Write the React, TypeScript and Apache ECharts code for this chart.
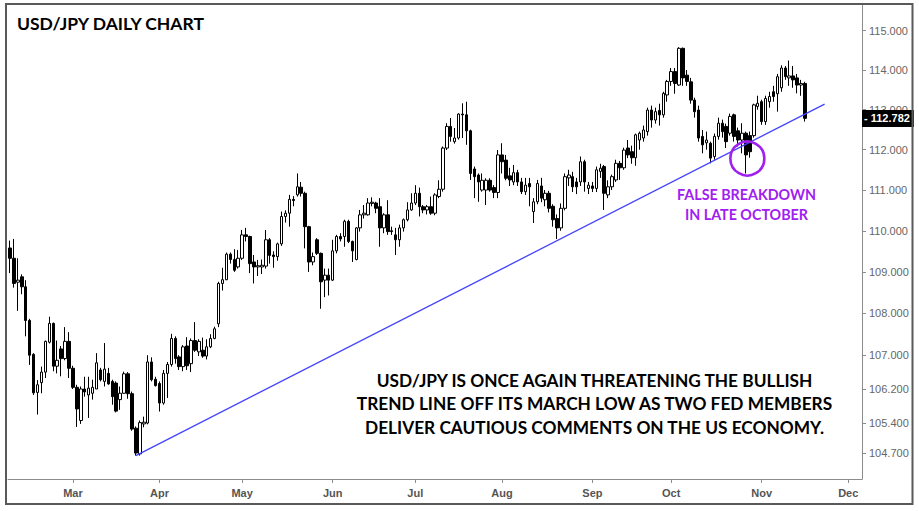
import React, { useEffect, useRef } from "react";
import * as echarts from "echarts";

// ---- Categories (trading days) ----
const START_DATE = "2018-02-07";
const END_DATE = "2018-12-06";
const MONTH_NAMES = ["Jan", "Feb", "Mar", "Apr", "May", "Jun", "Jul", "Aug", "Sep", "Oct", "Nov", "Dec"];

// ---- OHLC values: [open, close, low, high] per trading day ----
const FEB = [
  [109.58, 109.33, 108.97, 109.76], [109.33, 108.72, 108.62, 109.8], [108.75, 108.8, 108.06, 109.33],
  [108.88, 108.64, 108.46, 108.94], [108.64, 107.83, 107.45, 108.8], [107.83, 107.0, 106.77, 107.87],
  [107.02, 106.11, 106.06, 107.05], [106.12, 106.3, 105.6, 106.41], [106.35, 106.6, 106.1, 106.73],
  [106.6, 107.33, 106.46, 107.35], [107.31, 107.76, 107.28, 107.92], [107.76, 106.74, 106.62, 107.78],
  [106.74, 106.88, 106.57, 107.35], [107.15, 106.92, 106.5, 107.22], [106.92, 107.33, 106.88, 107.67],
  [107.33, 106.69, 106.46, 107.55],
];
const MAR = [
  [106.69, 106.24, 106.2, 106.75], [106.24, 105.73, 105.31, 106.3], [105.46, 106.2, 105.38, 106.26],
  [106.2, 106.13, 106.02, 106.49], [106.06, 106.22, 105.52, 106.49], [106.1, 106.24, 105.95, 106.42],
  [106.2, 106.82, 106.2, 107.05], [106.65, 106.42, 106.38, 106.7], [106.38, 106.67, 106.26, 107.29],
  [106.57, 106.32, 106.3, 106.7], [106.38, 106.02, 105.83, 106.42], [106.34, 105.68, 105.65, 106.38],
  [105.95, 106.1, 105.71, 106.26], [106.1, 106.56, 106.09, 106.61], [106.56, 106.09, 105.97, 106.6],
  [106.09, 105.26, 105.22, 106.14], [105.28, 104.7, 104.64, 105.32], [104.68, 105.41, 104.64, 105.46],
  [105.38, 105.42, 105.3, 105.55], [105.4, 106.84, 105.37, 107.0], [106.84, 106.42, 106.38, 106.95],
  [106.43, 106.28, 106.26, 106.49],
];
const APR = [
  [106.33, 105.87, 105.67, 106.38], [105.87, 106.57, 105.83, 106.65], [106.57, 106.78, 105.99, 106.84],
  [106.78, 107.4, 106.73, 107.51], [107.4, 106.92, 106.8, 107.45], [106.96, 106.73, 106.65, 107.0],
  [106.73, 107.2, 106.62, 107.24], [107.22, 106.75, 106.65, 107.43], [106.8, 107.35, 106.6, 107.4],
  [107.35, 107.12, 107.08, 107.79], [107.08, 107.33, 106.98, 107.38], [107.12, 106.98, 106.94, 107.42],
  [106.98, 107.2, 106.9, 107.38], [107.2, 107.4, 107.17, 107.5], [107.4, 107.63, 107.38, 107.68],
  [107.75, 108.72, 107.67, 108.76], [108.72, 108.81, 108.55, 109.1], [108.81, 109.43, 108.8, 109.47],
  [109.43, 109.3, 109.2, 109.47], [109.3, 109.04, 109.0, 109.55], [109.12, 109.33, 109.08, 109.53],
];
const MAY = [
  [109.33, 109.9, 109.29, 110.02], [109.9, 109.86, 109.74, 110.07], [109.86, 109.2, 108.97, 109.88],
  [109.24, 109.12, 108.72, 109.41], [109.12, 109.15, 108.9, 109.29], [109.12, 109.16, 108.95, 109.3],
  [109.14, 109.78, 109.08, 110.02], [109.78, 109.4, 109.2, 109.82], [109.41, 109.37, 109.1, 109.5],
  [109.37, 109.68, 109.27, 109.71], [109.68, 110.35, 109.63, 110.47], [110.35, 110.43, 110.2, 110.5],
  [110.43, 110.77, 110.1, 110.88], [110.77, 110.74, 110.6, 110.85], [110.88, 111.08, 110.84, 111.41],
  [111.07, 110.92, 110.84, 111.2], [110.92, 110.1, 109.57, 110.96], [110.1, 109.24, 109.0, 110.12],
  [109.24, 109.37, 109.16, 109.47], [109.78, 109.45, 109.41, 109.82], [109.45, 108.76, 108.11, 109.47],
  [108.8, 108.92, 108.39, 109.08], [108.92, 108.8, 108.43, 109.08],
];
const JUN = [
  [108.8, 109.51, 108.78, 109.78], [109.51, 109.86, 109.45, 109.9], [109.86, 109.8, 109.74, 109.94],
  [109.86, 110.23, 109.61, 110.27], [110.23, 109.74, 109.7, 110.27], [109.74, 109.51, 109.24, 109.76],
  [109.3, 110.07, 109.28, 110.09], [110.07, 110.39, 109.98, 110.51], [110.39, 110.43, 110.3, 110.63],
  [110.39, 110.68, 110.37, 110.8], [110.67, 110.7, 110.6, 110.82], [110.68, 110.55, 110.43, 110.71],
  [110.59, 110.07, 109.61, 110.8], [110.07, 110.39, 109.94, 110.43], [110.39, 109.98, 109.9, 110.75],
  [110.0, 109.98, 109.9, 110.1], [109.9, 109.78, 109.41, 110.07], [109.78, 110.07, 109.61, 110.15],
  [110.07, 110.27, 109.98, 110.3], [110.27, 110.51, 110.23, 110.7], [110.51, 110.68, 110.49, 110.92],
];
const JUL = [
  [110.68, 110.92, 110.63, 111.12], [110.92, 110.59, 110.35, 111.06], [110.59, 110.51, 110.43, 110.63],
  [110.51, 110.59, 110.4, 110.63], [110.59, 110.43, 110.39, 110.84], [110.43, 110.88, 110.38, 110.92],
  [110.84, 111.02, 110.8, 111.24], [111.02, 112.04, 110.96, 112.08], [112.04, 112.58, 111.99, 112.66],
  [112.58, 112.33, 112.2, 112.79], [112.2, 112.29, 112.15, 112.54], [112.29, 112.89, 112.25, 112.91],
  [112.89, 112.87, 112.29, 113.16], [112.87, 112.47, 112.12, 113.2], [112.47, 111.41, 111.25, 112.5],
  [111.52, 111.33, 110.8, 111.58], [111.37, 111.2, 110.71, 111.41], [111.0, 111.24, 110.96, 111.41],
  [111.0, 111.24, 110.63, 111.29], [111.24, 111.0, 110.96, 111.29], [111.06, 110.94, 110.8, 111.12],
  [110.94, 111.87, 110.8, 111.99],
];
const AUG = [
  [111.87, 111.7, 111.41, 112.16], [111.74, 111.29, 111.24, 111.87], [111.35, 111.25, 111.1, 111.55],
  [111.2, 111.43, 111.12, 111.62], [111.43, 111.2, 111.1, 111.5], [111.2, 110.96, 110.9, 111.3],
  [110.96, 111.12, 110.88, 111.3], [111.16, 111.08, 110.6, 111.3], [110.47, 110.71, 110.19, 110.8],
  [110.71, 111.16, 110.65, 111.25], [111.1, 110.8, 110.7, 111.3], [110.76, 110.92, 110.6, 111.0],
  [110.92, 110.55, 110.45, 110.98], [110.6, 110.27, 110.1, 110.65], [110.3, 110.07, 109.8, 110.4],
  [110.07, 110.55, 110.0, 110.67], [110.55, 111.33, 110.5, 111.41], [111.3, 111.37, 111.1, 111.5],
  [111.33, 111.08, 110.95, 111.45], [111.2, 111.08, 110.9, 111.3], [111.2, 111.7, 111.1, 111.83],
  [111.7, 111.2, 110.96, 111.75], [111.04, 111.12, 110.9, 111.2],
];
const SEP = [
  [111.1, 111.04, 110.95, 111.2], [111.04, 111.5, 110.95, 111.58], [111.46, 111.54, 111.3, 111.65],
  [111.58, 110.92, 110.51, 111.62], [110.88, 111.08, 110.8, 111.24], [111.08, 111.33, 111.0, 111.38],
  [111.25, 111.66, 111.2, 111.75], [111.66, 111.55, 111.25, 111.72], [111.55, 111.99, 111.5, 112.05],
  [112.04, 111.87, 111.79, 112.24], [111.95, 111.8, 111.65, 112.1], [111.8, 112.37, 111.6, 112.4],
  [112.24, 112.41, 112.0, 112.45], [112.29, 112.49, 112.2, 112.6], [112.45, 112.99, 112.35, 113.05],
  [112.99, 112.74, 112.55, 113.1], [112.74, 112.95, 112.65, 113.05], [112.98, 112.87, 112.6, 113.15],
  [112.87, 113.41, 112.8, 113.45], [113.37, 113.71, 113.2, 113.75],
];
const OCT = [
  [113.71, 113.96, 113.6, 114.05], [113.96, 113.66, 113.4, 114.05], [113.62, 114.55, 113.6, 114.58],
  [114.55, 113.8, 113.6, 114.57], [113.87, 113.71, 113.6, 114.0], [113.7, 113.24, 113.15, 113.8],
  [113.24, 112.95, 112.8, 113.3], [112.99, 112.29, 112.2, 113.1], [112.33, 112.12, 111.91, 112.49],
  [112.17, 112.24, 112.0, 112.45], [112.16, 111.79, 111.66, 112.2], [111.83, 112.33, 111.75, 112.4],
  [112.33, 112.66, 112.25, 112.8], [112.66, 112.45, 112.3, 112.75], [112.58, 112.2, 112.04, 112.65],
  [112.41, 112.83, 112.35, 112.9], [112.87, 112.33, 112.2, 112.9], [112.47, 112.24, 112.08, 112.55],
  [112.24, 112.41, 111.91, 112.66], [112.41, 111.87, 111.41, 112.45], [112.35, 111.95, 111.8, 112.45],
  [112.35, 113.12, 112.3, 113.15], [113.08, 113.16, 113.0, 113.35],
];
const NOV = [
  [113.2, 112.7, 112.62, 113.25], [112.7, 113.28, 112.62, 113.35], [113.2, 113.33, 113.05, 113.45],
  [113.45, 113.33, 113.2, 113.6], [113.4, 113.83, 112.95, 113.9], [113.55, 114.05, 113.45, 114.12],
  [114.05, 113.83, 113.75, 114.1], [113.8, 113.85, 113.6, 114.24], [113.85, 113.75, 113.55, 114.1],
  [113.8, 113.62, 113.41, 113.9], [113.62, 113.66, 113.35, 113.75], [113.66, 112.782, 112.7, 113.7],
];

// ---- Axis / annotation values ----
const Y_TICKS = [104.7, 105.4, 106.2, 107, 108, 109, 110, 111, 112, 113, 114, 115];
const Y_MIN = 104.098;
const Y_MAX = 115.658;
const LAST_PRICE = 112.782;
const TREND_START: [string, number] = ["2018-03-23", 104.64];
const TREND_END: [string, number] = ["2018-11-23", 113.14];
const BREAKDOWN_POINT: [string, number] = ["2018-10-29", 111.78];

const TITLE = "USD/JPY DAILY CHART";
const NOTE_LINES = [
  "USD/JPY IS ONCE AGAIN THREATENING THE BULLISH",
  "TREND LINE OFF ITS MARCH LOW AS TWO FED MEMBERS",
  "DELIVER CAUTIOUS COMMENTS ON THE US ECONOMY.",
];
const BREAKDOWN_LINES = ["FALSE BREAKDOWN", "IN LATE OCTOBER"];

const PURPLE = "#a020f0";
const AXIS_GRAY = "#8c8c8c";
const TEXT_FONT = "Lato, 'Open Sans', sans-serif";
const AXIS_FONT = "'Liberation Sans', Arial, sans-serif";

function tradingDays(start: string, end: string): string[] {
  const out: string[] = [];
  const d = new Date(start + "T00:00:00Z");
  const e = new Date(end + "T00:00:00Z");
  while (d.getTime() <= e.getTime()) {
    const wd = d.getUTCDay();
    if (wd !== 0 && wd !== 6) out.push(d.toISOString().slice(0, 10));
    d.setUTCDate(d.getUTCDate() + 1);
  }
  return out;
}

const CATEGORIES = tradingDays(START_DATE, END_DATE);
const CANDLES = [...FEB, ...MAR, ...APR, ...MAY, ...JUN, ...JUL, ...AUG, ...SEP, ...OCT, ...NOV];

const isMonthStart = (idx: number) =>
  idx > 0 && CATEGORIES[idx].slice(5, 7) !== CATEGORIES[idx - 1].slice(5, 7);

export default function App() {
  const ref = useRef<HTMLDivElement>(null);

  useEffect(() => {
    if (!ref.current) return;
    const chart = echarts.init(ref.current, null, { renderer: "svg" });

    const noteTexts = NOTE_LINES.map((t, i) => ({
      type: "text",
      x: 594.5,
      y: 380 + i * 23.6,
      silent: true,
      style: {
        text: t,
        fill: "#000",
        fontSize: 17.3,
        fontWeight: "bold",
        fontFamily: TEXT_FONT,
        align: "center",
        verticalAlign: "middle",
      },
      z: 50,
    }));
    const breakdownTexts = BREAKDOWN_LINES.map((t, i) => ({
      type: "text",
      x: 746.5,
      y: 194 + i * 20.4,
      silent: true,
      style: {
        text: t,
        fill: PURPLE,
        fontSize: 14.3,
        fontWeight: "bold",
        fontFamily: TEXT_FONT,
        align: "center",
        verticalAlign: "middle",
      },
      z: 50,
    }));

    const option: any = {
      animation: false,
      backgroundColor: "#fff",
      grid: { left: 8, right: 57, top: 5, bottom: 32, containLabel: false, outerBoundsMode: "none" },
      xAxis: {
        type: "category",
        data: CATEGORIES,
        boundaryGap: true,
        axisLine: { show: true, lineStyle: { color: AXIS_GRAY, width: 1 } },
        axisTick: {
          show: true,
          interval: (i: number) => isMonthStart(i),
          alignWithLabel: true,
          length: 4,
          lineStyle: { color: AXIS_GRAY },
        },
        axisLabel: {
          interval: (i: number) => isMonthStart(i),
          formatter: (v: string) => MONTH_NAMES[parseInt(v.slice(5, 7), 10) - 1],
          color: "#555",
          fontSize: 11,
          fontWeight: "bold",
          fontFamily: AXIS_FONT,
          margin: 8,
        },
        splitLine: { show: false },
      },
      yAxis: {
        type: "log",
        position: "right",
        min: Y_MIN,
        max: Y_MAX,
        axisLine: { show: true, lineStyle: { color: AXIS_GRAY, width: 1 } },
        axisTick: { show: true, customValues: Y_TICKS, length: 4, lineStyle: { color: AXIS_GRAY } },
        axisLabel: {
          customValues: Y_TICKS,
          formatter: (v: number) => Number(v).toFixed(3),
          color: "#666",
          fontSize: 11,
          fontFamily: AXIS_FONT,
          margin: 7,
        },
        splitLine: { show: false },
      },
      series: [
        {
          type: "candlestick",
          data: CANDLES,
          barWidth: 3,
          clip: false,
          itemStyle: {
            color: "#fff",
            color0: "#000",
            borderColor: "#000",
            borderColor0: "#000",
            borderWidth: 1,
          },
          markLine: {
            silent: true,
            animation: false,
            symbol: ["none", "none"],
            label: { show: false },
            data: [
              [
                { coord: TREND_START, lineStyle: { color: "#4444ff", width: 1.3, type: "solid" } },
                { coord: TREND_END, lineStyle: { color: "#4444ff", width: 1.3, type: "solid" } },
              ],
              {
                yAxis: LAST_PRICE,
                lineStyle: { color: "rgba(0,0,0,0)", width: 1, type: "solid" },
                label: {
                  show: true,
                  position: "end",
                  distance: 0,
                  formatter: "- " + LAST_PRICE.toFixed(3),
                  backgroundColor: "#000",
                  color: "#fff",
                  opacity: 1,
                  fontSize: 11,
                  lineHeight: 12,
                  fontWeight: "bold",
                  fontFamily: AXIS_FONT,
                  padding: [3, 4, 2, 2],
                },
              },
            ],
          },
          markPoint: {
            silent: true,
            animation: false,
            data: [
              {
                coord: BREAKDOWN_POINT,
                symbol: "circle",
                symbolSize: 34,
                symbolOffset: [-2.5, 0],
                itemStyle: { color: "rgba(0,0,0,0)", borderColor: PURPLE, borderWidth: 2.6 },
                label: { show: false },
              },
            ],
          },
        },
      ],
      graphic: [
        {
          type: "rect",
          silent: true,
          shape: { x: 6, y: 4, width: 906.5, height: 500 },
          style: { fill: "none", stroke: "#595959", lineWidth: 2 },
          z: 100,
        },
        {
          type: "text",
          x: 17,
          y: 23,
          silent: true,
          style: {
            text: TITLE,
            fill: "#000",
            fontSize: 17.5,
            fontWeight: "bold",
            fontFamily: TEXT_FONT,
            align: "left",
            verticalAlign: "middle",
          },
          z: 50,
        },
        ...noteTexts,
        ...breakdownTexts,
      ],
    };

    chart.setOption(option);
    return () => chart.dispose();
  }, []);

  return (
    <div
      ref={ref}
      style={{ position: "absolute", left: 0, top: 0, width: 919, height: 511, background: "#fff" }}
    />
  );
}
